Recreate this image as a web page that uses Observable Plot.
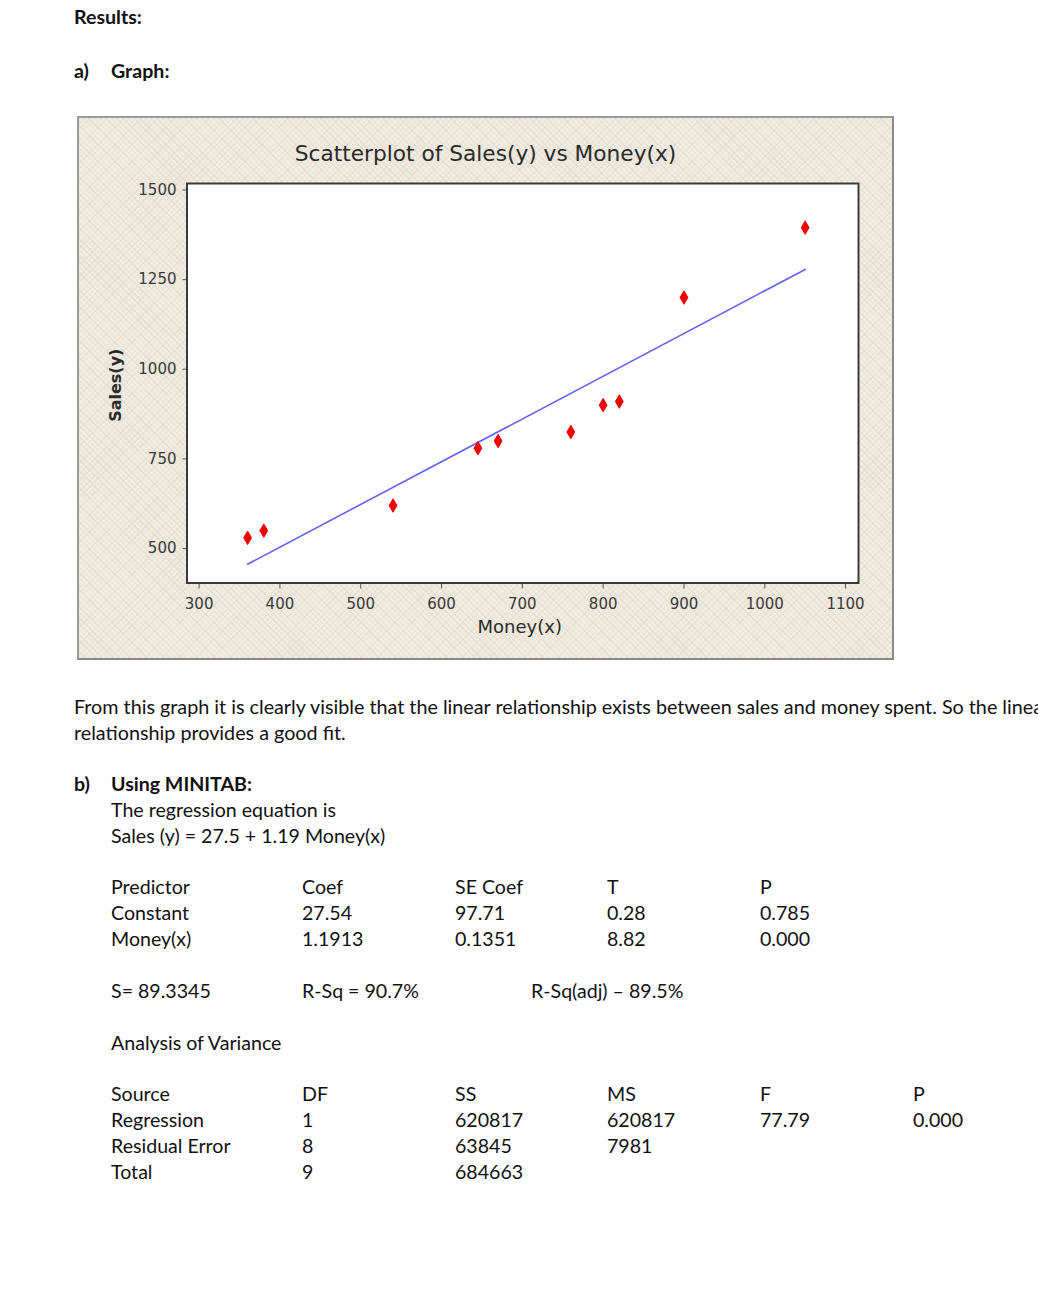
<!DOCTYPE html>
<html>
<head>
<meta charset="utf-8">
<script src="https://cdn.jsdelivr.net/npm/d3@7"></script>
<script src="https://cdn.jsdelivr.net/npm/@observablehq/plot@0.6"></script>
<style>
  html, body { margin: 0; padding: 0; background: #fff; }
  body { width: 1038px; height: 1304px; overflow: hidden; position: relative; font-family: Lato, "Open Sans", sans-serif; color: #111; }
  .t { position: absolute; white-space: nowrap; font-size: 19.6px; line-height: 26px; }
  .b { font-weight: bold; }
  .p { font-size: 19.75px; }
  #chartbox { position: absolute; left: 77px; top: 116px; width: 817px; height: 544px; box-sizing: border-box;
    border: 2px solid #8a8a8a; border-top-color: #9a9a9a; border-left-color: #9a9a9a;
    background-color: #efece1;
    background-image:
      repeating-linear-gradient(45deg, rgba(215,205,185,0.35) 0 1px, transparent 1px 4px),
      repeating-linear-gradient(-45deg, rgba(230,200,200,0.30) 0 1px, transparent 1px 4px);
  }
  #charttitle { position: absolute; left: 0; right: 0; top: 23px; text-align: center; font-family: "DejaVu Sans", sans-serif; font-size: 21.7px; color: #2a2a2a; letter-spacing: 0px; }
  #chart { position: absolute; left: 0; top: 0; }
</style>
</head>
<body>
<script>
// ---- data ----
const money = [360, 380, 540, 645, 670, 760, 800, 820, 900, 1050];
const sales = [530, 550, 620, 780, 800, 825, 900, 910, 1200, 1395];
const intercept = 27.54;
const slope = 1.1913;
const xTicks = [300, 400, 500, 600, 700, 800, 900, 1000, 1100];
const yTicks = [500, 750, 1000, 1250, 1500];
const chartTitle = "Scatterplot of Sales(y) vs Money(x)";
const xLabel = "Money(x)";
const yLabel = "Sales(y)";

const coefHeader = ["Predictor", "Coef", "SE Coef", "T", "P"];
const coefRows = [
  ["Constant", "27.54", "97.71", "0.28", "0.785"],
  ["Money(x)", "1.1913", "0.1351", "8.82", "0.000"]
];
const fitStats = ["S= 89.3345", "R-Sq = 90.7%", "R-Sq(adj) \u2013 89.5%"];
const anovaHeader = ["Source", "DF", "SS", "MS", "F", "P"];
const anovaRows = [
  ["Regression", "1", "620817", "620817", "77.79", "0.000"],
  ["Residual Error", "8", "63845", "7981", "", ""],
  ["Total", "9", "684663", "", "", ""]
];

// ---- text helpers ----
function addText(txt, left, top, cls) {
  const d = document.createElement("div");
  d.className = "t" + (cls ? " " + cls : "");
  d.style.left = left + "px";
  d.style.top = top + "px";
  d.textContent = txt;
  document.body.appendChild(d);
  return d;
}

addText("Results:", 74, 4, "b");
addText("a)", 74, 58, "b");
addText("Graph:", 111, 58, "b");

// ---- chart ----
const box = document.createElement("div");
box.id = "chartbox";
document.body.appendChild(box);
const title = document.createElement("div");
title.id = "charttitle";
title.textContent = chartTitle;

const data = money.map((m, i) => ({money: m, sales: sales[i]}));
const ext = d3.extent(money);
const fit = ext.map(x => ({money: x, sales: intercept + slope * x}));

const fontTick = "DejaVu Sans, sans-serif";
const chart = Plot.plot({
  width: 813,
  height: 540,
  marginLeft: 107.5,
  marginRight: 34,
  marginTop: 65,
  marginBottom: 75.5,
  style: {background: "transparent", fontFamily: fontTick, fontSize: "15px", color: "#3a3a3a", overflow: "visible"},
  x: {domain: [285, 1116]},
  y: {domain: [404, 1518]},
  marks: [
    Plot.frame({fill: "white"}),
    Plot.axisX({ticks: xTicks, tickSize: 6, tickPadding: 9, label: null, stroke: "#555", fontSize: 15, letterSpacing: "-0.3px", tickFormat: d => String(d)}),
    Plot.axisY({ticks: yTicks, tickSize: 4, tickPadding: 6.5, label: null, stroke: "#555", fontSize: 15, letterSpacing: "-0.3px", tickFormat: d => String(d)}),
    Plot.line(fit, {x: "money", y: "sales", stroke: "#6363f2", strokeWidth: 1.6}),
    Plot.dot(data, {x: "money", y: "sales", symbol: "diamond", r: 4.1, fill: "#f00000", stroke: "#f00000", strokeWidth: 1, strokeLinejoin: "round"}),
    Plot.text([xLabel], {text: d => d, frameAnchor: "bottom", dy: 50, dx: -3, fontSize: 18, fill: "#2a2a2a", letterSpacing: "-0.2px"}),
    Plot.text([yLabel], {text: d => d, frameAnchor: "left", textAnchor: "middle", rotate: -90, dx: -71.5, dy: 2, fontSize: 16, fontWeight: "bold", fill: "#2a2a2a"}),
    Plot.frame({stroke: "#3a3a3a", strokeWidth: 2})
  ]
});
chart.id = "chart";
box.appendChild(chart);
box.appendChild(title);

// ---- paragraph ----
addText("From this graph it is clearly visible that the linear relationship exists between sales and money spent. So the linear", 74, 694, "p");
addText("relationship provides a good fit.", 74, 720, "p");

addText("b)", 74, 771, "b");
addText("Using MINITAB:", 111, 771, "b");
addText("The regression equation is", 111, 797);
addText("Sales (y) = 27.5 + 1.19 Money(x)", 111, 823);

const cols1 = [111, 302, 455, 607, 760];
[coefHeader, ...coefRows].forEach((row, r) => {
  row.forEach((c, j) => addText(c, cols1[j], 874 + 26 * r));
});
const colsS = [111, 302, 531];
fitStats.forEach((c, j) => addText(c, colsS[j], 978));
addText("Analysis of Variance", 111, 1030);
const cols2 = [111, 302, 455, 607, 760, 913];
[anovaHeader, ...anovaRows].forEach((row, r) => {
  row.forEach((c, j) => { if (c) addText(c, cols2[j], 1081 + 26 * r); });
});
</script>
</body>
</html>
